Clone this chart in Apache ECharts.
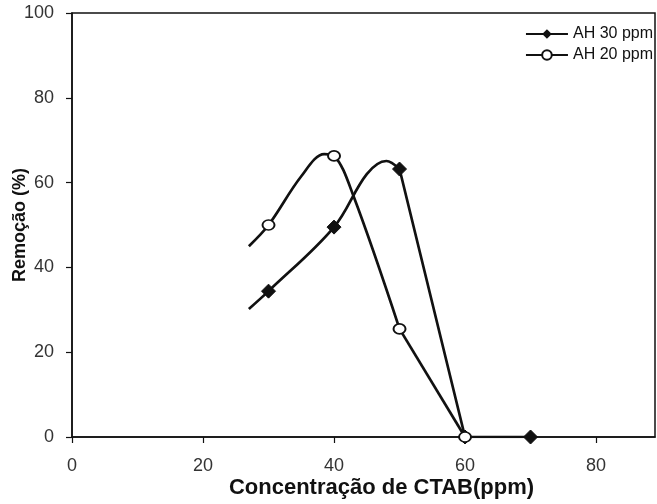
<!DOCTYPE html>
<html>
<head>
<meta charset="utf-8">
<script src="https://cdn.jsdelivr.net/npm/echarts@6/dist/echarts.min.js"></script>
<style>
  html, body { margin: 0; padding: 0; background: #fff; }
  #chart { width: 657px; height: 504px; }
</style>
</head>
<body>
<div id="chart"></div>
<script>
// measured points (markers)
var markX30 = [30, 40, 50, 60, 70];
var markY30 = [34.4, 49.5, 63.2, 0, 0];
var markX20 = [30, 40, 50, 60];
var markY20 = [50, 66.3, 25.5, 0];

// traced curve: smooth part, then the straight drop to zero
var curveX30 = [27, 30, 40, 45, 48, 50];
var curveY30 = [30.2, 34.4, 49.5, 62, 65.1, 63.2];
var dropX30 = [50, 60, 70];
var dropY30 = [63.2, 0, 0];

var curveX20 = [27, 30, 35, 38.5, 40, 43, 50];
var curveY20 = [45, 50, 61.5, 66.7, 66.3, 56.7, 25.5];
var dropX20 = [50, 60];
var dropY20 = [25.5, 0];

var xTicks = [0, 20, 40, 60, 80];
var yTicks = [0, 20, 40, 60, 80, 100];

// build line data; only x values listed in marks get a symbol
function buildData(cx, cy, marks) {
    var out = [];
    for (var i = 0; i < cx.length; i++) {
        var item = { value: [cx[i], cy[i]] };
        if (marks.indexOf(cx[i]) < 0) item.symbol = 'none';
        out.push(item);
    }
    return out;
}

var chart = echarts.init(document.getElementById('chart'));
var font = 'Liberation Sans, Arial, sans-serif';
var black = '#111';

var sym30 = { symbol: 'diamond', symbolSize: 14, itemStyle: { color: black, borderColor: black } };
var sym20 = { symbol: 'circle', symbolSize: [12, 10], itemStyle: { color: '#fff', borderColor: black, borderWidth: 1.8 } };
var lineSt = { color: black, width: 2.7 };

chart.setOption({
    animation: false,
    backgroundColor: '#fff',
    grid: {
        left: 72, right: 2, top: 13, bottom: 67,
        outerBoundsMode: 'none',
        containLabel: false,
        show: true, borderColor: black, borderWidth: 1.5
    },
    legend: {
        orient: 'vertical',
        right: 4,
        top: 26,
        padding: 0,
        itemWidth: 42,
        itemHeight: 12,
        itemGap: 5,
        textStyle: { fontFamily: font, fontSize: 16, color: black },
        data: ['AH 30 ppm', 'AH 20 ppm']
    },
    xAxis: {
        type: 'value',
        min: 0, max: 89, interval: 20,
        name: 'Concentração de CTAB(ppm)',
        nameLocation: 'middle',
        nameGap: 40,
        nameMoveOverlap: false,
        nameTextStyle: { fontFamily: font, fontSize: 22, fontWeight: 'bold', color: black, padding: [0, 0, 0, 36] },
        axisLine: { lineStyle: { color: black, width: 1.5 } },
        axisTick: { length: 6, lineStyle: { color: black, width: 1.2 } },
        axisLabel: {
            fontFamily: font, fontSize: 18, color: '#333', margin: 20,
            showMaxLabel: false,
            formatter: function (v) { return xTicks.indexOf(v) >= 0 ? v : ''; }
        },
        splitLine: { show: false }
    },
    yAxis: {
        type: 'value',
        min: 0, max: 100, interval: 20,
        name: 'Remoção (%)',
        nameLocation: 'middle',
        nameGap: 43,
        nameMoveOverlap: false,
        nameTextStyle: { fontFamily: font, fontSize: 18, fontWeight: 'bold', color: black },
        axisLine: { show: true, lineStyle: { color: black, width: 1.5 } },
        axisTick: { show: true, length: 6, lineStyle: { color: black, width: 1.2 } },
        axisLabel: {
            fontFamily: font, fontSize: 18, color: '#333', margin: 18,
            formatter: function (v) { return yTicks.indexOf(v) >= 0 ? v : ''; }
        },
        splitLine: { show: false }
    },
    series: [
        Object.assign({
            name: 'AH 30 ppm', type: 'line', smooth: 0.35,
            lineStyle: lineSt, data: buildData(curveX30, curveY30, markX30)
        }, sym30),
        Object.assign({
            name: 'AH 30 ppm', type: 'line', smooth: false,
            lineStyle: lineSt, data: buildData(dropX30, dropY30, [60, 70])
        }, sym30),
        Object.assign({
            name: 'AH 20 ppm', type: 'line', smooth: 0.35,
            lineStyle: lineSt, data: buildData(curveX20, curveY20, markX20)
        }, sym20),
        Object.assign({
            name: 'AH 20 ppm', type: 'line', smooth: false,
            lineStyle: lineSt, data: buildData(dropX20, dropY20, [60])
        }, sym20)
    ]
});
</script>
</body>
</html>
